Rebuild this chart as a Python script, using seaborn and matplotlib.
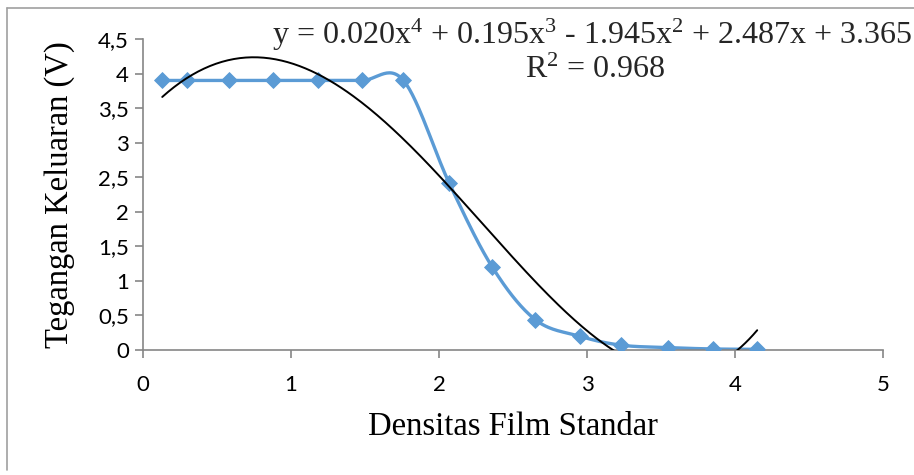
import numpy as np
import pandas as pd
import matplotlib
matplotlib.use("Agg")
import matplotlib.pyplot as plt
from matplotlib.lines import Line2D
import seaborn as sns

# ---- data ----
densitas = [0.13, 0.30, 0.58, 0.88, 1.18, 1.48, 1.76, 2.07, 2.36, 2.65, 2.95, 3.23, 3.55, 3.85, 4.15]
tegangan = [3.9, 3.9, 3.9, 3.9, 3.9, 3.9, 3.9, 2.41, 1.2, 0.44, 0.2, 0.07, 0.035, 0.015, 0.01]
x_ticks = [0, 1, 2, 3, 4, 5]
y_ticks = [0, 0.5, 1, 1.5, 2, 2.5, 3, 3.5, 4, 4.5]
y_ticklabels = ["0", "0,5", "1", "1,5", "2", "2,5", "3", "3,5", "4", "4,5"]
equation = r"y = 0.020x$^{4}$ + 0.195x$^{3}$ - 1.945x$^{2}$ + 2.487x + 3.365"
r2_text = r"R$^{2}$ = 0.968"
x_label = "Densitas Film Standar"
y_label = "Tegangan Keluaran (V)"

df = pd.DataFrame({"x": densitas, "y": tegangan})

# smoothed line (Excel-style Bezier through the points)
def smooth(xs, ys, n=30):
    P = np.column_stack([xs, ys]).astype(float)
    out = []
    for i in range(len(P) - 1):
        p0 = P[i - 1] if i > 0 else P[i]
        p1 = P[i]
        p2 = P[i + 1]
        p3 = P[i + 2] if i + 2 < len(P) else P[i + 1]
        c1 = p1 + (p2 - p0) / 6.0
        c2 = p2 - (p3 - p1) / 6.0
        t = np.linspace(0, 1, n, endpoint=(i == len(P) - 2))[:, None]
        seg = (1 - t) ** 3 * p1 + 3 * (1 - t) ** 2 * t * c1 + 3 * (1 - t) * t ** 2 * c2 + t ** 3 * p2
        out.append(seg)
    out = np.vstack(out)
    return out[:, 0], out[:, 1]

sx, sy = smooth(densitas, tegangan)
smooth_df = pd.DataFrame({"x": sx, "y": sy})

# polynomial trend line (order 4) fitted to the data
coef = np.polyfit(densitas, tegangan, 4)
tx = np.linspace(min(densitas), max(densitas), 300)
trend_df = pd.DataFrame({"x": tx, "y": np.polyval(coef, tx)})

# ---- figure ----
sns.set_theme(style="white")
plt.rcParams["font.family"] = ["Lato", "DejaVu Sans"]
plt.rcParams["mathtext.fontset"] = "custom"
plt.rcParams["mathtext.rm"] = "Liberation Serif"
plt.rcParams["mathtext.it"] = "Liberation Serif:italic"

fig = plt.figure(figsize=(9.14, 4.75), dpi=100)
ax = fig.add_axes([143 / 914, 1 - 350 / 475, (883 - 143) / 914, (350 - 39) / 475])

blue = "#5B9BD5"
sns.lineplot(data=smooth_df, x="x", y="y", sort=False, ax=ax, color=blue, lw=2.4, zorder=2)
sns.scatterplot(data=df, x="x", y="y", ax=ax, marker="D", s=65, color=blue, edgecolor=blue, zorder=3)
sns.lineplot(data=trend_df, x="x", y="y", sort=False, ax=ax, color="black", lw=1.4, zorder=4)

ax.set_xlim(0, 5)
ax.set_ylim(0, 4.5)
ax.set_xticks(x_ticks)
ax.set_xticklabels([str(t) for t in x_ticks])
ax.set_yticks(y_ticks)
ax.set_yticklabels(y_ticklabels)

gray = "#868686"
for s in ["top", "right"]:
    ax.spines[s].set_visible(False)
for s in ["left", "bottom"]:
    ax.spines[s].set_color(gray)
    ax.spines[s].set_linewidth(1.2)
ax.tick_params(axis="both", direction="out", length=6, width=1.2, color=gray,
               labelsize=16, labelcolor="black", left=True, bottom=True)
ax.tick_params(axis="x", pad=12)
ax.tick_params(axis="y", pad=4)

serif = "Liberation Serif"
ax.set_xlabel(x_label, fontsize=23.5, family=serif, color="black", va="center")
ax.set_ylabel(y_label, fontsize=23.5, family=serif, color="black", va="center")
ax.xaxis.set_label_coords(0.5, -(427 - 350) / 311)
ax.yaxis.set_label_coords(-(143 - 60) / 740, 0.5)

fig.text(592 / 914, 1 - 35 / 475, equation, fontsize=23, family=serif, ha="center", va="center")
fig.text(595 / 914, 1 - 70 / 475, r2_text, fontsize=23, family=serif, ha="center", va="center")

# chart border (top and left edges visible)
fig.add_artist(Line2D([7 / 914, 1.0], [1 - 8 / 475, 1 - 8 / 475], color="#a0a0a0", lw=1.2, transform=fig.transFigure))
fig.add_artist(Line2D([7 / 914, 7 / 914], [1 - 8 / 475, 1 - 470 / 475], color="#a0a0a0", lw=1.2, transform=fig.transFigure))

fig.savefig("out.png", dpi=100)
